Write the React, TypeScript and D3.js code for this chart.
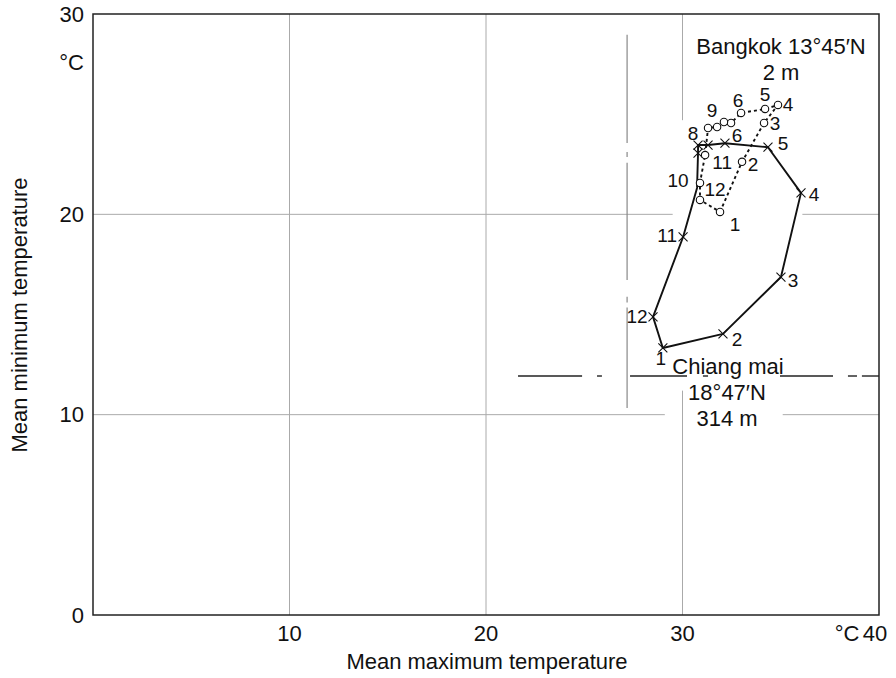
import React from "react";
import * as d3 from "d3";

// Chiang Mai: mean max / mean min by month (solid line, crosses)
const chiangMaiMax = [29.0, 32.06, 35.01, 36.03, 34.35, 32.16, 31.3, 30.79, 30.79, 30.74, 30.03, 28.5];
const chiangMaiMin = [13.33, 14.03, 16.87, 21.07, 23.35, 23.55, 23.46, 23.46, 23.06, 21.32, 18.87, 14.88];
const chiangMaiShown = ["1","2","3","4","5","6","","8","","10","11","12"];
const chiangMaiMarker = [true, true, true, true, true, true, true, true, true, false, true, true];

// Bangkok (dotted line, circles)
const bangkokMax = [31.91, 33.03, 34.15, 34.86, 34.2, 32.98, 32.47, 32.11, 31.76, 31.3, 31.15, 30.89, 30.89];
const bangkokMin = [20.12, 22.62, 24.56, 25.46, 25.26, 25.06, 24.56, 24.61, 24.36, 24.31, 22.96, 21.57, 20.72];
const bangkokShown = ["1","2","3","4","5","6","","","9","","11","12",""];

const xTicks = [10, 20, 30, 40];
const yTicks = [0, 10, 20, 30];

// label offsets (px) for month numbers
const cmOffsets: [number, number][] = [
  [-2, 11], [14, 6], [12, 3], [13, 2], [15, -4],
  [12, -8], [0, 0], [-5, -12], [0, 0], [-19, -7],
  [-16, -1], [-16, 0],
];
const bkOffsets: [number, number][] = [
  [15, 13], [11, 3], [11, 1], [10, 0], [0, -14],
  [-3, -12], [0, 0], [0, 0], [-5, -16], [0, 0],
  [17, 7], [15, 7], [0, 0],
];

const W = 896, H = 678;
const FONT = "'Liberation Sans', Arial, Helvetica, sans-serif";

export default function App() {
  const x = d3.scaleLinear().domain([0, 40]).range([93, 879]);
  const y = d3.scaleLinear().domain([0, 30]).range([615, 14]);

  const line = d3.line<[number, number]>().x(d => x(d[0])).y(d => y(d[1]));
  const cmPts: [number, number][] = chiangMaiMax.map((v, i) => [v, chiangMaiMin[i]]);
  const bkPts: [number, number][] = bangkokMax.map((v, i) => [v, bangkokMin[i]]);

  const gridH: { v: number; segs: [number, number][] }[] = [
    { v: 10, segs: [[0, 29.1], [35.1, 40]] },
    { v: 20, segs: [[0, 29.5], [36.1, 40]] },
  ];
  const gridV: { v: number; segs: [number, number][] }[] = [
    { v: 10, segs: [[0, 30]] },
    { v: 20, segs: [[0, 30]] },
    { v: 30, segs: [[0, 11.2], [24.7, 30]] },
  ];
  // dash-dot reference lines
  const refH = { v: 11.93, segs: [[21.63, 24.89], [25.65, 25.9], [27.33, 30.23], [31.04, 31.3], [34.96, 37.66], [38.42, 38.88], [39.13, 40]] };
  const refV = { v: 27.18, segs: [[28.96, 23.56], [23.11, 22.86], [22.57, 16.72], [15.88, 15.6], [15.35, 10.33]] };

  const cross = (cx: number, cy: number, k: string) => {
    const s = 4.5;
    return (
      <path key={k} d={`M${cx - s},${cy - s}L${cx + s},${cy + s}M${cx - s},${cy + s}L${cx + s},${cy - s}`}
        stroke="#111" strokeWidth={1.1} fill="none" />
    );
  };

  return (
    <svg width={W} height={H} style={{ position: "absolute", left: 0, top: 0, background: "#fff" }}
      fontFamily={FONT}>
      <rect x={0} y={0} width={W} height={H} fill="#fff" />
      {/* grid */}
      {gridH.map(g => g.segs.map((s, i) => (
        <line key={`gh${g.v}-${i}`} x1={x(s[0])} x2={x(s[1])} y1={y(g.v)} y2={y(g.v)} stroke="#aaa" strokeWidth={1} />
      )))}
      {gridV.map(g => g.segs.map((s, i) => (
        <line key={`gv${g.v}-${i}`} x1={x(g.v)} x2={x(g.v)} y1={y(s[0])} y2={y(s[1])} stroke="#aaa" strokeWidth={1} />
      )))}
      {/* dash-dot reference lines */}
      {refV.segs.map((s, i) => (
        <line key={`rv${i}`} x1={x(refV.v)} x2={x(refV.v)} y1={y(s[0])} y2={y(s[1])} stroke="#888" strokeWidth={1.2} />
      ))}
      {refH.segs.map((s, i) => (
        <line key={`rh${i}`} x1={x(s[0])} x2={x(s[1])} y1={y(refH.v)} y2={y(refH.v)} stroke="#222" strokeWidth={1.4} />
      ))}
      {/* frame */}
      <rect x={x(0)} y={y(30)} width={x(40) - x(0)} height={y(0) - y(30)} fill="none" stroke="#222" strokeWidth={1.5} />

      {/* Chiang Mai */}
      <path d={line(cmPts) + "Z"} fill="none" stroke="#111" strokeWidth={1.9} strokeLinejoin="round" />
      {cmPts.map((p, i) => chiangMaiMarker[i] ? cross(x(p[0]), y(p[1]), `c${i}`) : null)}
      {/* Bangkok */}
      <path d={line(bkPts) + "Z"} fill="none" stroke="#111" strokeWidth={1.9} strokeDasharray="3 3" />
      {bkPts.map((p, i) => (
        <circle key={`b${i}`} cx={x(p[0])} cy={y(p[1])} r={3.7} fill="#fff" stroke="#111" strokeWidth={1.1} />
      ))}

      {/* month labels */}
      <g fontSize={19} fill="#111" dominantBaseline="central">
        {cmPts.map((p, i) => chiangMaiShown[i] ? (
          <text key={`cl${i}`} x={x(p[0]) + cmOffsets[i][0]} y={y(p[1]) + cmOffsets[i][1]} textAnchor="middle">{chiangMaiShown[i]}</text>
        ) : null)}
        {bkPts.map((p, i) => bangkokShown[i] ? (
          <text key={`bl${i}`} x={x(p[0]) + bkOffsets[i][0]} y={y(p[1]) + bkOffsets[i][1]} textAnchor="middle">{bangkokShown[i]}</text>
        ) : null)}
      </g>

      {/* station annotations */}
      <g fontSize={22} fill="#111" dominantBaseline="central" textAnchor="middle">
        <text x={781} y={46}>Bangkok 13°45′N</text>
        <text x={781} y={72}>2 m</text>
        <text x={728} y={366}>Chiang mai</text>
        <text x={727} y={392}>18°47′N</text>
        <text x={727} y={418}>314 m</text>
      </g>

      {/* axis tick labels */}
      <g fontSize={22} fill="#111" dominantBaseline="central">
        {xTicks.map(t => (
          <text key={`xt${t}`} x={x(t) - (t === 40 ? 4 : 0)} y={633} textAnchor="middle">{t}</text>
        ))}
        {yTicks.map(t => (
          <text key={`yt${t}`} x={84} y={y(t)} textAnchor="end">{t}</text>
        ))}
        <text x={847} y={633} textAnchor="middle">°C</text>
        <text x={84} y={62} textAnchor="end">°C</text>
      </g>
      <text x={487} y={661} fontSize={22} textAnchor="middle" dominantBaseline="central" fill="#111">Mean maximum temperature</text>
      <text transform={`translate(19,315) rotate(-90)`} fontSize={22} textAnchor="middle" dominantBaseline="central" fill="#111">Mean minimum temperature</text>
    </svg>
  );
}
